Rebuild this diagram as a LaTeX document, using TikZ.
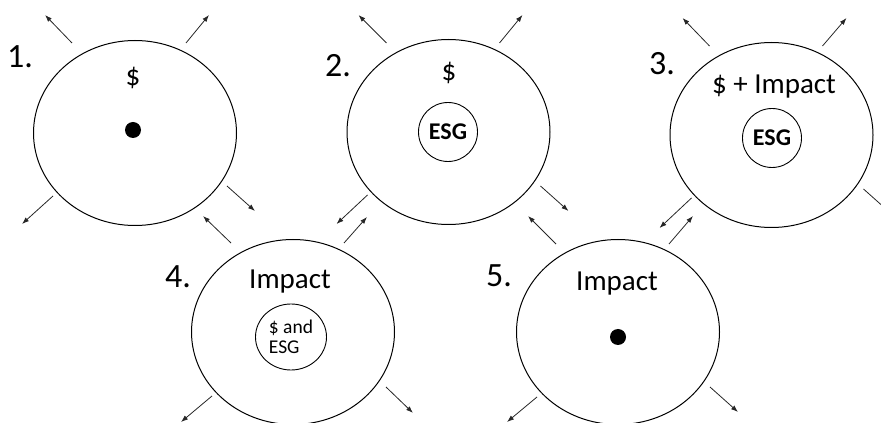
\documentclass[tikz,border=0pt]{standalone}
\usepackage{fontspec}
\setmainfont{Carlito}
\usepackage{tikz}
\usetikzlibrary{arrows.meta,shapes.geometric}

\begin{document}
\begin{tikzpicture}[x=1pt,y=1pt,
        stage/.style={ellipse,draw,line width=1pt,
                      minimum width=203pt,minimum height=185pt,inner sep=0pt},
        core/.style={circle,draw,line width=0.9pt,minimum size=59pt,
                     inner sep=0pt,font=\fontsize{24}{26}\selectfont\bfseries},
        blob/.style={circle,fill=black,minimum size=16pt,inner sep=0pt},
        lbl/.style={font=\fontsize{29}{32}\selectfont,inner sep=0pt},
        num/.style={font=\fontsize{34}{36}\selectfont,inner sep=0pt},
        ray/.style={-{Latex[length=7pt,width=5pt]},black!85,line width=0.8pt}]
        \useasboundingbox (0,0) rectangle (881,423);
        \clip (0,0) rectangle (881,423);
        % five stages
        \node[stage] (e1) at (135,290) {};
        \node[stage] (e2) at (448.5,291) {};
        \node[stage] (e3) at (771.5,288) {};
        \node[stage] (e4) at (293,91) {};
        \node[stage] (e5) at (618,91) {};
        \node[num] (n1) at (20,366) {1.};
        \node[num] (n2) at (338,357) {2.};
        \node[num] (n3) at (662,359) {3.};
        \node[num] (n4) at (178,146) {4.};
        \node[num] (n5) at (499,147) {5.};
        % what sits inside
        \node[lbl] (t1) at (133,345) {\$};
        \node[blob] (d1) at (133,293) {};
        \node[lbl] (t2) at (449,350) {\$};
        \node[core] (c2) at (448,291) {ESG};
        \node[lbl] (t3) at (774,336) {\$ + Impact};
        \node[core] (c3) at (772,285) {ESG};
        \node[lbl] (t4) at (290,141) {Impact};
        \node[ellipse,draw,line width=0.9pt,minimum width=71pt,minimum height=66pt,
              inner sep=0pt,align=left,font=\fontsize{19.5}{20}\selectfont] (c4)
          at (291,86) {\$ and\\ESG};
        \node[lbl] (t5) at (617,139) {Impact};
        \node[blob] (d5) at (618,86) {};
        % arrows out of each stage
        \draw[ray] ([shift={(-63,90)}]e1.center) -- ++(-27,28);
        \draw[ray] ([shift={(51,90)}]e1.center) -- ++(23,28);
        \draw[ray] ([shift={(-82,-63)}]e1.center) -- ++(-31,-28);
        \draw[ray] ([shift={(92,-53)}]e1.center) -- ++(28,-25);
        \draw[ray] ([shift={(-62,89)}]e2.center) -- ++(-28,28);
        \draw[ray] ([shift={(51,89)}]e2.center) -- ++(23,28);
        \draw[ray] ([shift={(-81,-63)}]e2.center) -- ++(-31,-29);
        \draw[ray] ([shift={(92,-54)}]e2.center) -- ++(28,-25);
        \draw[ray] ([shift={(-62,89)}]e3.center) -- ++(-27,28);
        \draw[ray] ([shift={(51,89)}]e3.center) -- ++(24,28);
        \draw[ray] ([shift={(-80,-63)}]e3.center) -- ++(-32,-30);
        \draw[ray] ([shift={(92,-54)}]e3.center) -- ++(28,-25);
        \draw[ray] ([shift={(-62,89)}]e4.center) -- ++(-28,27);
        \draw[ray] ([shift={(51,89)}]e4.center) -- ++(23,26);
        \draw[ray] ([shift={(-81,-64)}]e4.center) -- ++(-31,-26);
        \draw[ray] ([shift={(93,-55)}]e4.center) -- ++(27,-26);
        \draw[ray] ([shift={(-62,88)}]e5.center) -- ++(-28,28);
        \draw[ray] ([shift={(51,88)}]e5.center) -- ++(24,28);
        \draw[ray] ([shift={(-81,-65)}]e5.center) -- ++(-30,-25);
        \draw[ray] ([shift={(92,-55)}]e5.center) -- ++(28,-25);
      \end{tikzpicture}
\end{document}
